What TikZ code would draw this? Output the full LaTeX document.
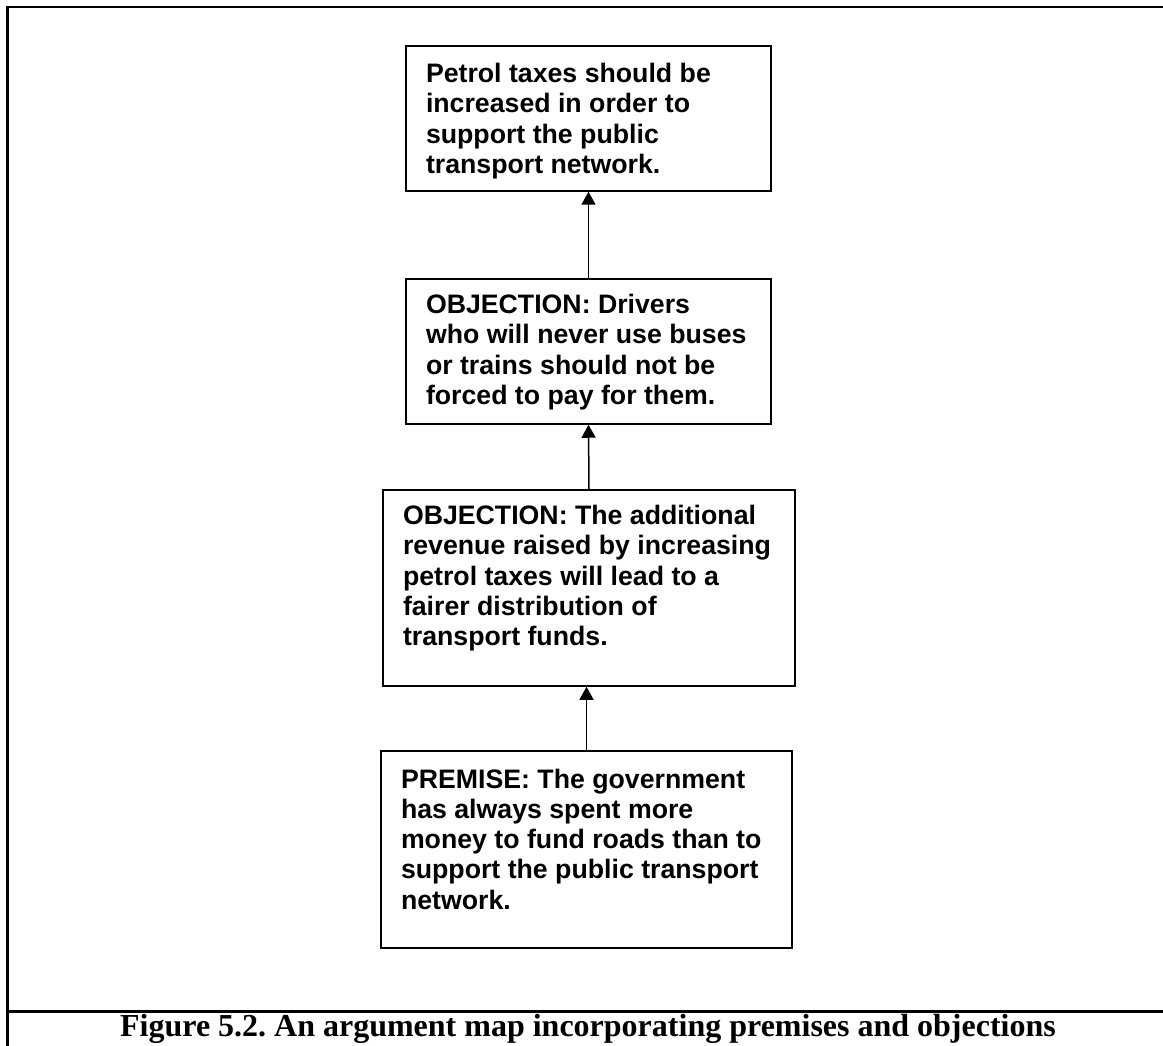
\documentclass[tikz,border=0pt]{standalone}
\usepackage{fontspec}
\setmainfont{Liberation Serif}
\newfontfamily\boxfont{Liberation Sans}
\usetikzlibrary{arrows.meta,calc}
\frenchspacing
\newcommand\boxtext[4]{\parbox[c][#1][t]{#2}{\raggedright\boxfont\bfseries\fontsize{26.7pt}{30.3pt}\selectfont\rule{0pt}{#3}#4}}
\tikzset{
  frameline/.style={line width=2.2pt, line cap=rect},
  argbox/.style={draw, line width=1.5pt, inner sep=0pt},
  supportarrow/.style={line width=1.5pt, -{Triangle[width=14pt,length=13pt]}},
  captiontext/.style={inner sep=0pt, font=\bfseries\fontsize{32pt}{36pt}\selectfont}
}
\begin{document}
\begin{tikzpicture}[x=1pt,y=-1pt]
\useasboundingbox (0,0) rectangle (1163,1046);
\fill[white] (0,0) rectangle (1163,1046);
\draw[frameline] (1170,7) -- (7.5,7) -- (7.5,1060);
\draw[frameline] (7.5,1011.5) -- (1170,1011.5);

\node[argbox, minimum width=365pt, minimum height=145pt] (b1) at (588.5,118.5)
  {\boxtext{145pt}{325pt}{36.5pt}{Petrol taxes should be\\increased in order to\\support the public\\transport network.}};
\node[argbox, minimum width=365pt, minimum height=145pt] (b2) at (588.5,351.5)
  {\boxtext{145pt}{325pt}{34.5pt}{OBJECTION: Drivers\\who will never use buses\\or trains should not be\\forced to pay for them.}};
\node[argbox, minimum width=412pt, minimum height=196pt] (b3) at (589,588)
  {\boxtext{196pt}{372pt}{34.5pt}{OBJECTION: The additional\\revenue raised by increasing\\petrol taxes will lead to a\\fairer distribution of\\transport funds.}};
\node[argbox, minimum width=411pt, minimum height=197pt] (b4) at (586.5,849.5)
  {\boxtext{197pt}{371pt}{37pt}{PREMISE: The government\\has always spent more\\money to fund roads than to\\support the public transport\\network.}};

\draw[supportarrow] (b2.north) -- (b1.south);
\draw[supportarrow] (b3.north) -- (b2.south);
\draw[supportarrow] (b4.north) -- (b4.north |- b3.south);

\node[captiontext, anchor=base] (cap) at (588,1036) {Figure 5.2. An argument map incorporating premises and objections};
\end{tikzpicture}
\end{document}
